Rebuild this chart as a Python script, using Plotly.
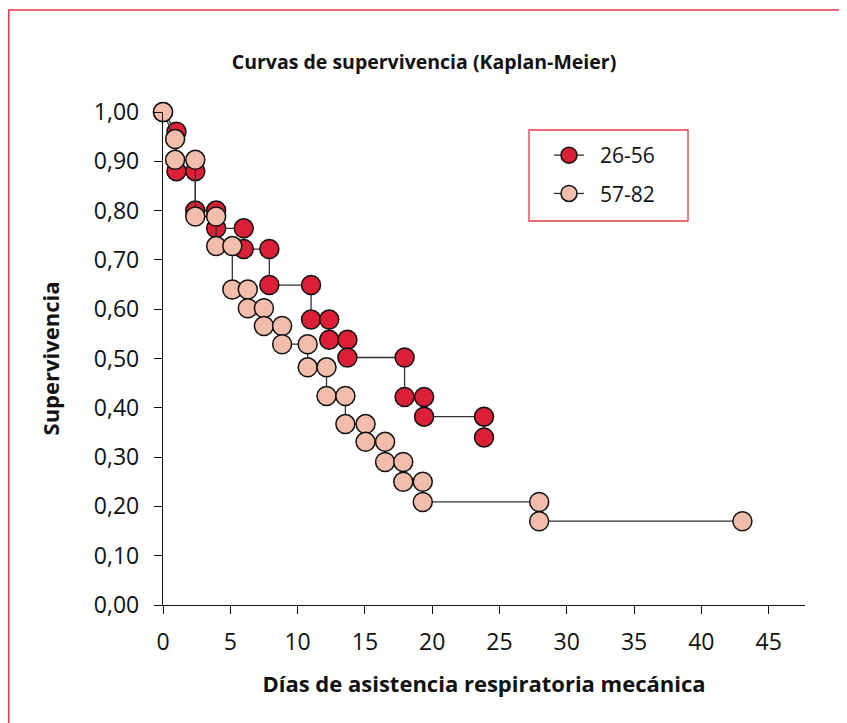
import plotly.graph_objects as go

# Data (Kaplan-Meier step curves)
dias_26_56 = [0, 1.0, 1.0, 2.4, 2.4, 3.95, 3.95, 6.0, 6.0, 7.9, 7.9, 11.0, 11.0,
              12.35, 12.35, 13.7, 13.7, 17.95, 17.95, 19.4, 19.4, 23.85, 23.85]
sup_26_56 = [1.00, 0.96, 0.88, 0.88, 0.80, 0.80, 0.764, 0.764, 0.722, 0.722, 0.649, 0.649, 0.579,
             0.579, 0.538, 0.538, 0.502, 0.502, 0.422, 0.422, 0.382, 0.382, 0.340]

dias_57_82 = [0, 0.9, 0.9, 2.4, 2.4, 3.95, 3.95, 5.15, 5.15, 6.3, 6.3, 7.5, 7.5, 8.85, 8.85,
              10.75, 10.75, 12.15, 12.15, 13.55, 13.55, 15.05, 15.05, 16.5, 16.5, 17.85, 17.85,
              19.3, 19.3, 27.95, 27.95, 43.05]
sup_57_82 = [1.00, 0.945, 0.903, 0.903, 0.788, 0.788, 0.728, 0.728, 0.640, 0.640, 0.602, 0.602,
             0.566, 0.566, 0.529, 0.529, 0.482, 0.482, 0.424, 0.424, 0.367, 0.367, 0.331,
             0.331, 0.290, 0.290, 0.250, 0.250, 0.209, 0.209, 0.170, 0.170]

x_ticks = [0, 5, 10, 15, 20, 25, 30, 35, 40, 45]
y_ticks = [0.0, 0.1, 0.2, 0.3, 0.4, 0.5, 0.6, 0.7, 0.8, 0.9, 1.0]
y_ticktext = ["0,00", "0,10", "0,20", "0,30", "0,40", "0,50", "0,60", "0,70", "0,80", "0,90", "1,00"]
series_names = ["26-56", "57-82"]

RED = "#DA1F36"
PINK = "#F2BDAA"
FRAME = "#E03A4A"
FONT = "Open Sans"

# page body has an 8px offset; plot area targeted at window px (163..805, 112..605)
OFF = 8
L, T = 155, 104
R, B = 50, 126
PW, PH = 847 - L - R, 723 - T - B


def px_x(wx):
    return (wx - OFF - L) / PW


def px_y(wy):
    return 1 - (wy - OFF - T) / PH


fig = go.Figure()
fig.add_trace(go.Scatter(
    x=dias_26_56, y=sup_26_56, mode="lines+markers", name="  " + series_names[0],
    legendgroup="a",
    line=dict(color="#333333", width=1.3),
    marker=dict(size=19, color=RED, line=dict(color="#111111", width=1.5)),
    cliponaxis=False,
))
fig.add_trace(go.Scatter(
    x=dias_57_82, y=sup_57_82, mode="lines+markers", name="  " + series_names[1],
    legendgroup="b",
    line=dict(color="#333333", width=1.3),
    marker=dict(size=19, color=PINK, line=dict(color="#111111", width=1.5)),
    cliponaxis=False,
))

fig.update_layout(
    width=847, height=723,
    margin=dict(l=L, r=R, t=T, b=B),
    paper_bgcolor="white", plot_bgcolor="white",
    font=dict(family=FONT, color="#111111", size=17),
    title=dict(text="<b>Curvas de supervivencia (Kaplan-Meier)</b>",
               x=(424 - OFF) / 847, xref="container", xanchor="center",
               y=1 - (62 - OFF) / 723, yanchor="middle",
               font=dict(size=19.5, family=FONT, color="#111111")),
    showlegend=True,
    legend=dict(x=px_x(529), y=px_y(135), xanchor="left", yanchor="top",
                borderwidth=0, bgcolor="rgba(0,0,0,0)", indentation=20,
                font=dict(size=21, family=FONT, color="#111111"),
                traceorder="grouped", tracegroupgap=8),
    shapes=[
        dict(type="rect", xref="paper", yref="paper",
             x0=(0.8 - L) / PW, x1=1.3, y0=-0.4, y1=1 + (T - 2) / PH,
             line=dict(color=FRAME, width=1.5), layer="below"),
        dict(type="rect", xref="paper", yref="paper",
             x0=px_x(529), x1=px_x(688), y0=px_y(221), y1=px_y(130),
             line=dict(color=FRAME, width=1.3), layer="below"),
    ],
)

fig.update_xaxes(
    range=[0, 47.7], tickvals=x_ticks, ticks="outside", ticklen=8, tickwidth=1.3,
    tickcolor="#111111", showline=True, linecolor="#111111", linewidth=1.3,
    showgrid=False, zeroline=False, ticklabelstandoff=8,
    title=dict(text="<b>Días de asistencia respiratoria mecánica</b>",
               font=dict(size=22, family=FONT), standoff=20),
    tickfont=dict(size=23),
)
fig.update_yaxes(
    range=[0, 1.0], tickvals=y_ticks, ticktext=y_ticktext, ticks="outside", ticklen=8,
    tickwidth=1.3, tickcolor="#111111", showline=True, linecolor="#111111", linewidth=1.3,
    showgrid=False, zeroline=False, ticklabelstandoff=10,
    title=dict(text="<b>Supervivencia</b>", font=dict(size=22, family=FONT), standoff=28),
    tickfont=dict(size=23),
)

fig.write_html("out.html")
